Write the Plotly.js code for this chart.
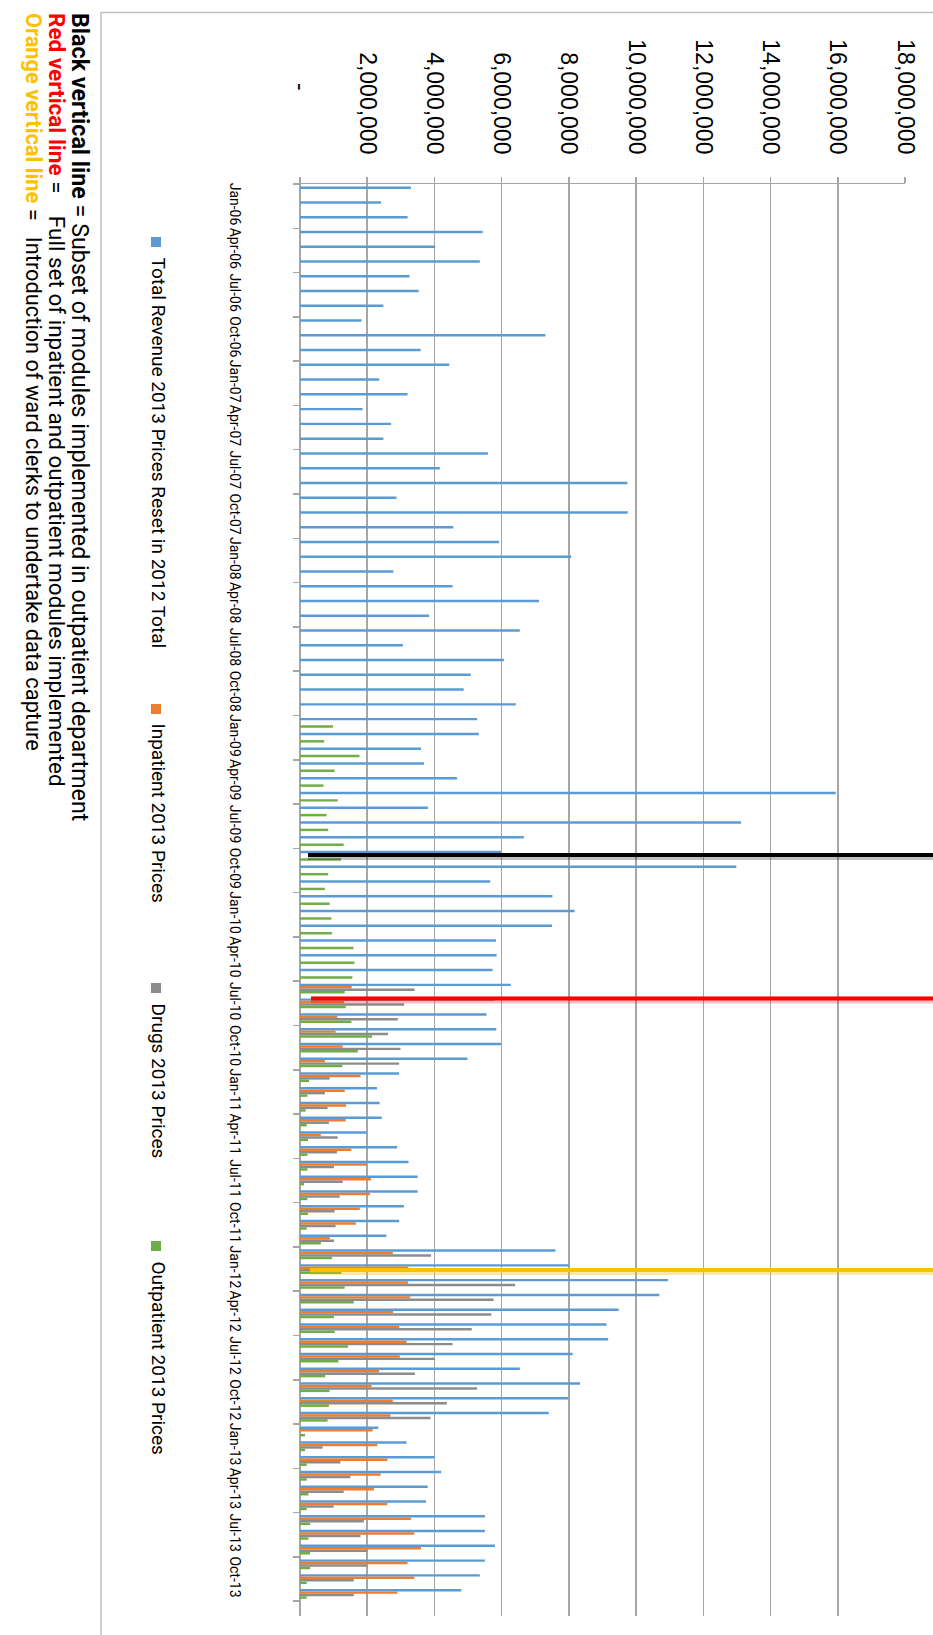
<!DOCTYPE html>
<html>
<head>
<meta charset="utf-8">
<script src="https://cdn.plot.ly/plotly-3.0.1.min.js"></script>
<style>html,body{margin:0;padding:0;background:#fff;}#chart{width:933px;height:1635px;}</style>
</head>
<body>
<div id="chart"></div>
<script>
const months = ["Dec-05",
"Jan-06","Feb-06","Mar-06","Apr-06","May-06","Jun-06","Jul-06","Aug-06","Sep-06","Oct-06","Nov-06","Dec-06",
"Jan-07","Feb-07","Mar-07","Apr-07","May-07","Jun-07","Jul-07","Aug-07","Sep-07","Oct-07","Nov-07","Dec-07",
"Jan-08","Feb-08","Mar-08","Apr-08","May-08","Jun-08","Jul-08","Aug-08","Sep-08","Oct-08","Nov-08","Dec-08",
"Jan-09","Feb-09","Mar-09","Apr-09","May-09","Jun-09","Jul-09","Aug-09","Sep-09","Oct-09","Nov-09","Dec-09",
"Jan-10","Feb-10","Mar-10","Apr-10","May-10","Jun-10","Jul-10","Aug-10","Sep-10","Oct-10","Nov-10","Dec-10",
"Jan-11","Feb-11","Mar-11","Apr-11","May-11","Jun-11","Jul-11","Aug-11","Sep-11","Oct-11","Nov-11","Dec-11",
"Jan-12","Feb-12","Mar-12","Apr-12","May-12","Jun-12","Jul-12","Aug-12","Sep-12","Oct-12","Nov-12","Dec-12",
"Jan-13","Feb-13","Mar-13","Apr-13","May-13","Jun-13","Jul-13","Aug-13","Sep-13","Oct-13","Nov-13","Dec-13"];

const tickLabels = ["Jan-06","Apr-06","Jul-06","Oct-06","Jan-07","Apr-07","Jul-07","Oct-07",
"Jan-08","Apr-08","Jul-08","Oct-08","Jan-09","Apr-09","Jul-09","Oct-09",
"Jan-10","Apr-10","Jul-10","Oct-10","Jan-11","Apr-11","Jul-11","Oct-11",
"Jan-12","Apr-12","Jul-12","Oct-12","Jan-13","Apr-13","Jul-13","Oct-13"];

const valueTicks = [0,2000000,4000000,6000000,8000000,10000000,12000000,14000000,16000000,18000000];
const valueTickText = ["-\u00a0\u00a0\u00a0\u00a0\u00a0\u00a0\u00a0\u00a0\u00a0\u00a0","2,000,000","4,000,000","6,000,000","8,000,000","10,000,000","12,000,000","14,000,000","16,000,000","18,000,000"];

const totalRevenue = [3300000,
2410000,3200000,5430000,4020000,5350000,3260000,3530000,2480000,1830000,7300000,3590000,4440000,
2360000,3200000,1860000,2710000,2480000,5590000,4160000,9740000,2870000,9750000,4560000,5920000,
8070000,2780000,4540000,7110000,3840000,6540000,3060000,6070000,5080000,4870000,6420000,5270000,
5320000,3600000,3690000,4670000,15940000,3810000,13120000,6660000,6000000,12980000,5660000,7510000,
8170000,7500000,5830000,5850000,5730000,6270000,5790000,5550000,5840000,5990000,4980000,2950000,
2290000,2370000,2430000,1990000,2890000,3230000,3500000,3500000,3090000,2950000,2570000,7600000,
8000000,10950000,10690000,9480000,9120000,9170000,8110000,6540000,8330000,7980000,7400000,2330000,
3170000,4000000,4200000,3800000,3750000,5500000,5500000,5800000,5500000,5350000,4800000,null];

const inpatient = Array(54).fill(null).concat([
1540000,1310000,1110000,1060000,1270000,740000,1800000,
1330000,1370000,1360000,620000,1530000,1990000,2110000,2080000,1780000,1660000,890000,2760000,
3220000,3210000,3280000,2770000,2950000,3170000,2970000,2350000,2130000,2760000,2690000,2160000,
2300000,2600000,2400000,2200000,2600000,3300000,3400000,3600000,3200000,3400000,2900000,null]);

const drugs = Array(54).fill(null).concat([
3410000,3100000,2910000,2620000,2990000,2950000,880000,
740000,820000,860000,1120000,1100000,1010000,1270000,1180000,1030000,1060000,1010000,3900000,
5300000,6400000,5760000,5690000,5110000,4540000,4010000,3420000,5270000,4370000,3880000,0,
670000,1200000,1500000,1300000,1000000,1900000,1800000,2000000,2000000,1600000,1600000,null]);

const outpatient = Array(36).fill(null).concat([
980000,
720000,1770000,1030000,700000,1120000,790000,840000,1300000,1220000,840000,740000,880000,
930000,950000,1590000,1620000,1560000,1330000,1360000,1530000,2140000,1720000,1260000,270000,
220000,170000,200000,240000,220000,220000,120000,220000,240000,200000,620000,950000,
1230000,1330000,1600000,1010000,1030000,1430000,1140000,750000,880000,860000,820000,150000,
150000,200000,200000,250000,200000,300000,250000,300000,300000,200000,200000,null]);

const seriesNames = ["Total Revenue 2013 Prices Reset in 2012 Total","Inpatient 2013 Prices","Drugs 2013 Prices","Outpatient 2013 Prices"];
const seriesColors = ["#5B9BD5","#ED7D31","#8C8C8C","#70AD47"];
const seriesValues = [totalRevenue, inpatient, drugs, outpatient];

const traces = seriesValues.map((vals, i) => ({
  type: "bar", orientation: "h", name: seriesNames[i],
  y: months, x: vals, marker: {color: seriesColors[i]},
  hoverinfo: "skip", xaxis: "x", yaxis: "y"
}));
traces.push({type: "scatter", mode: "none", x: [0], y: [0], xaxis: "x", yaxis: "y2", hoverinfo: "skip", showlegend: false});

// pixel -> paper helpers
const PL = 300, PR = 905, PT = 184, PB = 1616;
const px = v => (v - PL) / (PR - PL);
const py = v => (PB - v) / (PB - PT);

const boundaryTicks = [];
for (let b = -0.5; b < months.length; b += 3) boundaryTicks.push(b);

const calib = "Roboto, 'Liberation Sans', sans-serif";

const legendItems = [
  {sq: 242, text: 255},
  {sq: 709, text: 721},
  {sq: 988, text: 1001},
  {sq: 1246, text: 1259}
];

const shapes = [];
const annotations = [];
legendItems.forEach((it, i) => {
  shapes.push({type: "rect", xref: "paper", yref: "paper",
    x0: px(151), x1: px(161), y0: py(it.sq - 5), y1: py(it.sq + 5),
    fillcolor: seriesColors[i], line: {width: 0}});
  annotations.push({xref: "paper", yref: "paper", x: px(158), y: py(it.text),
    xanchor: "center", yanchor: "top", textangle: 90, showarrow: false,
    text: seriesNames[i], font: {family: calib, size: 19, color: "#000"}});
});

// chart frame
shapes.push({type: "rect", xref: "paper", yref: "paper", x0: px(101), x1: px(945), y0: py(1650), y1: py(12.5),
  line: {color: "#bfbfbf", width: 1.5}, fillcolor: "rgba(0,0,0,0)", layer: "below"});

// marker lines
const markerLines = [
  {y: 855, x0: 308, color: "#000000", glow: "rgba(0,0,0,0.25)"},
  {y: 998.5, x0: 311, color: "#FF0000", glow: "rgba(255,0,0,0.25)"},
  {y: 1270, x0: 310, color: "#FFC000", glow: "rgba(255,192,0,0.35)"}
];
markerLines.forEach(m => {
  shapes.push({type: "line", xref: "paper", yref: "paper", x0: px(m.x0), x1: px(945), y0: py(m.y + 1.5), y1: py(m.y + 1.5),
    line: {color: m.glow, width: 7}});
  shapes.push({type: "line", xref: "paper", yref: "paper", x0: px(m.x0), x1: px(945), y0: py(m.y), y1: py(m.y),
    line: {color: m.color, width: 4}});
});

const nbsp = "\u00a0";
const notes = [
  {x: 80, size: 23.3, text: "<b>Black vertical line</b> = Subset of modules implemented in outpatient department"},
  {x: 57, size: 22.5, text: "<b><span style='color:#FF0000'>Red vertical line</span></b> =" + nbsp.repeat(4) + "Full set of inpatient and outpatient modules implemented"},
  {x: 34, size: 21.8, text: "<b><span style='color:#FFC000'>Orange vertical line</span></b> =" + nbsp.repeat(3) + "Introduction of ward clerks to undertake data capture"}
];
notes.forEach(n => {
  annotations.push({xref: "paper", yref: "paper", x: px(n.x), y: py(11), xanchor: "center", yanchor: "top",
    textangle: 90, showarrow: false, text: n.text, font: {family: calib, size: n.size, color: "#000"}});
});

const layout = {
  width: 933, height: 1635,
  margin: {l: PL, r: 933 - PR, t: PT, b: 1635 - PB, pad: 0},
  paper_bgcolor: "#ffffff", plot_bgcolor: "#ffffff",
  showlegend: false, barmode: "group", bargap: 0.33, bargroupgap: 0,
  xaxis: {
    side: "top", range: [0, 18000000], tickmode: "array", tickvals: valueTicks, ticktext: valueTickText,
    tickangle: 90, tickfont: {family: "'Liberation Sans', Arial, sans-serif", size: 23, color: "#000"},
    showgrid: true, gridcolor: "#a6a6a6", gridwidth: 1.5, zeroline: true, zerolinecolor: "#a6a6a6", zerolinewidth: 1.5,
    showline: true, linecolor: "#a6a6a6", linewidth: 1.5, ticks: "outside", ticklen: 6, tickcolor: "#a6a6a6", tickwidth: 1.5,
    ticklabelstandoff: 14, fixedrange: true
  },
  yaxis: {
    type: "category", categoryorder: "array", categoryarray: months,
    range: [months.length - 0.5, -0.5],
    tickmode: "array", tickvals: tickLabels, ticktext: tickLabels, tickangle: 90,
    tickfont: {family: calib, size: 14, color: "#000"}, ticks: "", showgrid: false, zeroline: false,
    showline: true, linecolor: "#a6a6a6", linewidth: 1.5, ticklabelstandoff: 52, fixedrange: true
  },
  yaxis2: {
    overlaying: "y", anchor: "x", side: "left", type: "linear", range: [months.length - 0.5, -0.5],
    tickmode: "array", tickvals: boundaryTicks, ticks: "outside", ticklen: 6, tickcolor: "#a6a6a6", tickwidth: 1.5,
    showticklabels: false, showgrid: false, zeroline: false, showline: false, fixedrange: true
  },
  shapes: shapes,
  annotations: annotations
};

Plotly.newPlot("chart", traces, layout, {displayModeBar: false, staticPlot: true});
</script>
</body>
</html>
